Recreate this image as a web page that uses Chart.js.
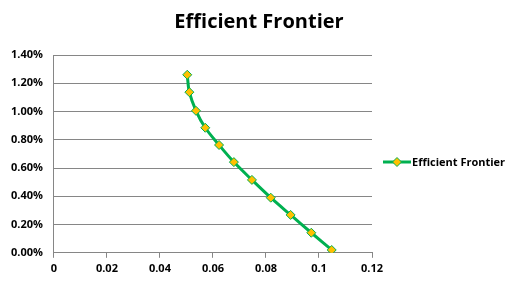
<!DOCTYPE html>
<html>
<head>
<meta charset="utf-8">
<script src="https://cdn.jsdelivr.net/npm/chart.js@4.4.0/dist/chart.umd.min.js"></script>
<style>
  html, body { margin: 0; padding: 0; background: #fff; }
  #wrap { width: 519px; height: 285px; }
</style>
</head>
<body>
<div id="wrap"><canvas id="chart" width="519" height="285"></canvas></div>
<script>
/* data */
const seriesName = 'Efficient Frontier';
const risk = [0.0503, 0.0511, 0.0536, 0.0571, 0.0623, 0.0679, 0.0747, 0.0818, 0.0893, 0.0971, 0.1048];
const ret = [0.0126, 0.01137, 0.01005, 0.00885, 0.00763, 0.00642, 0.00516, 0.0039, 0.00268, 0.00142, 0.0002];
const xTicks = [0, 0.02, 0.04, 0.06, 0.08, 0.1, 0.12];
const yTicks = [0, 0.002, 0.004, 0.006, 0.008, 0.01, 0.012, 0.014];

const green = '#00B050';
const gold = '#FFC000';
const gridGray = '#868686';
const font = 'Open Sans';

let points = [];
for (let i = 0; i < risk.length; i++) {
  points.push({ x: risk[i], y: ret[i] });
}

// title centred on the whole picture + excel-like legend (line + diamond)
const titleAndLegend = {
  id: 'titleAndLegend',
  afterDraw(chart) {
    const c = chart.ctx;
    c.save();
    c.fillStyle = '#000';
    c.font = 'bold 20px "' + font + '"';
    c.textAlign = 'center';
    c.textBaseline = 'middle';
    c.fillText(seriesName, 259, 22);

    const y = 162;
    c.strokeStyle = green;
    c.lineWidth = 3;
    c.beginPath();
    c.moveTo(383, y);
    c.lineTo(411, y);
    c.stroke();
    c.fillStyle = gold;
    c.strokeStyle = green;
    c.lineWidth = 1;
    c.beginPath();
    c.moveTo(397, y - 4.5);
    c.lineTo(401.5, y);
    c.lineTo(397, y + 4.5);
    c.lineTo(392.5, y);
    c.closePath();
    c.fill();
    c.stroke();
    c.fillStyle = '#000';
    c.font = 'bold 11px "' + font + '"';
    c.textAlign = 'left';
    c.fillText(seriesName, 412, y + 1);
    c.restore();
  }
};

new Chart(document.getElementById('chart'), {
  type: 'scatter',
  data: {
    datasets: [{
      label: seriesName,
      data: points,
      showLine: true,
      borderColor: green,
      borderWidth: 3,
      tension: 0.35,
      pointStyle: 'rectRot',
      pointRadius: 4.5,
      pointBackgroundColor: gold,
      pointBorderColor: green,
      pointBorderWidth: 1
    }]
  },
  options: {
    responsive: false,
    animation: false,
    layout: { padding: { left: 0, right: 147, top: 55, bottom: 6 } },
    plugins: {
      legend: { display: false },
      tooltip: { enabled: false },
      title: { display: false }
    },
    scales: {
      x: {
        type: 'linear',
        min: 0,
        max: 0.12,
        afterBuildTicks: (axis) => { axis.ticks = xTicks.map(v => ({ value: v })); },
        ticks: {
          color: '#000',
          font: { family: font, size: 11, weight: 'bold' },
          maxRotation: 0,
          padding: 4,
          callback: (v) => String(+v.toFixed(2))
        },
        grid: { display: true, drawOnChartArea: false, color: gridGray, tickLength: 5 },
        border: { color: gridGray, width: 1 }
      },
      y: {
        min: 0,
        max: 0.014,
        afterBuildTicks: (axis) => { axis.ticks = yTicks.map(v => ({ value: v })); },
        ticks: {
          color: '#000',
          font: { family: font, size: 11, weight: 'bold' },
          padding: 11,
          callback: (v) => (v * 100).toFixed(2) + '%'
        },
        grid: { color: gridGray, lineWidth: 1, drawTicks: false },
        border: { color: gridGray, width: 1 }
      }
    }
  },
  plugins: [titleAndLegend]
});
</script>
</body>
</html>
